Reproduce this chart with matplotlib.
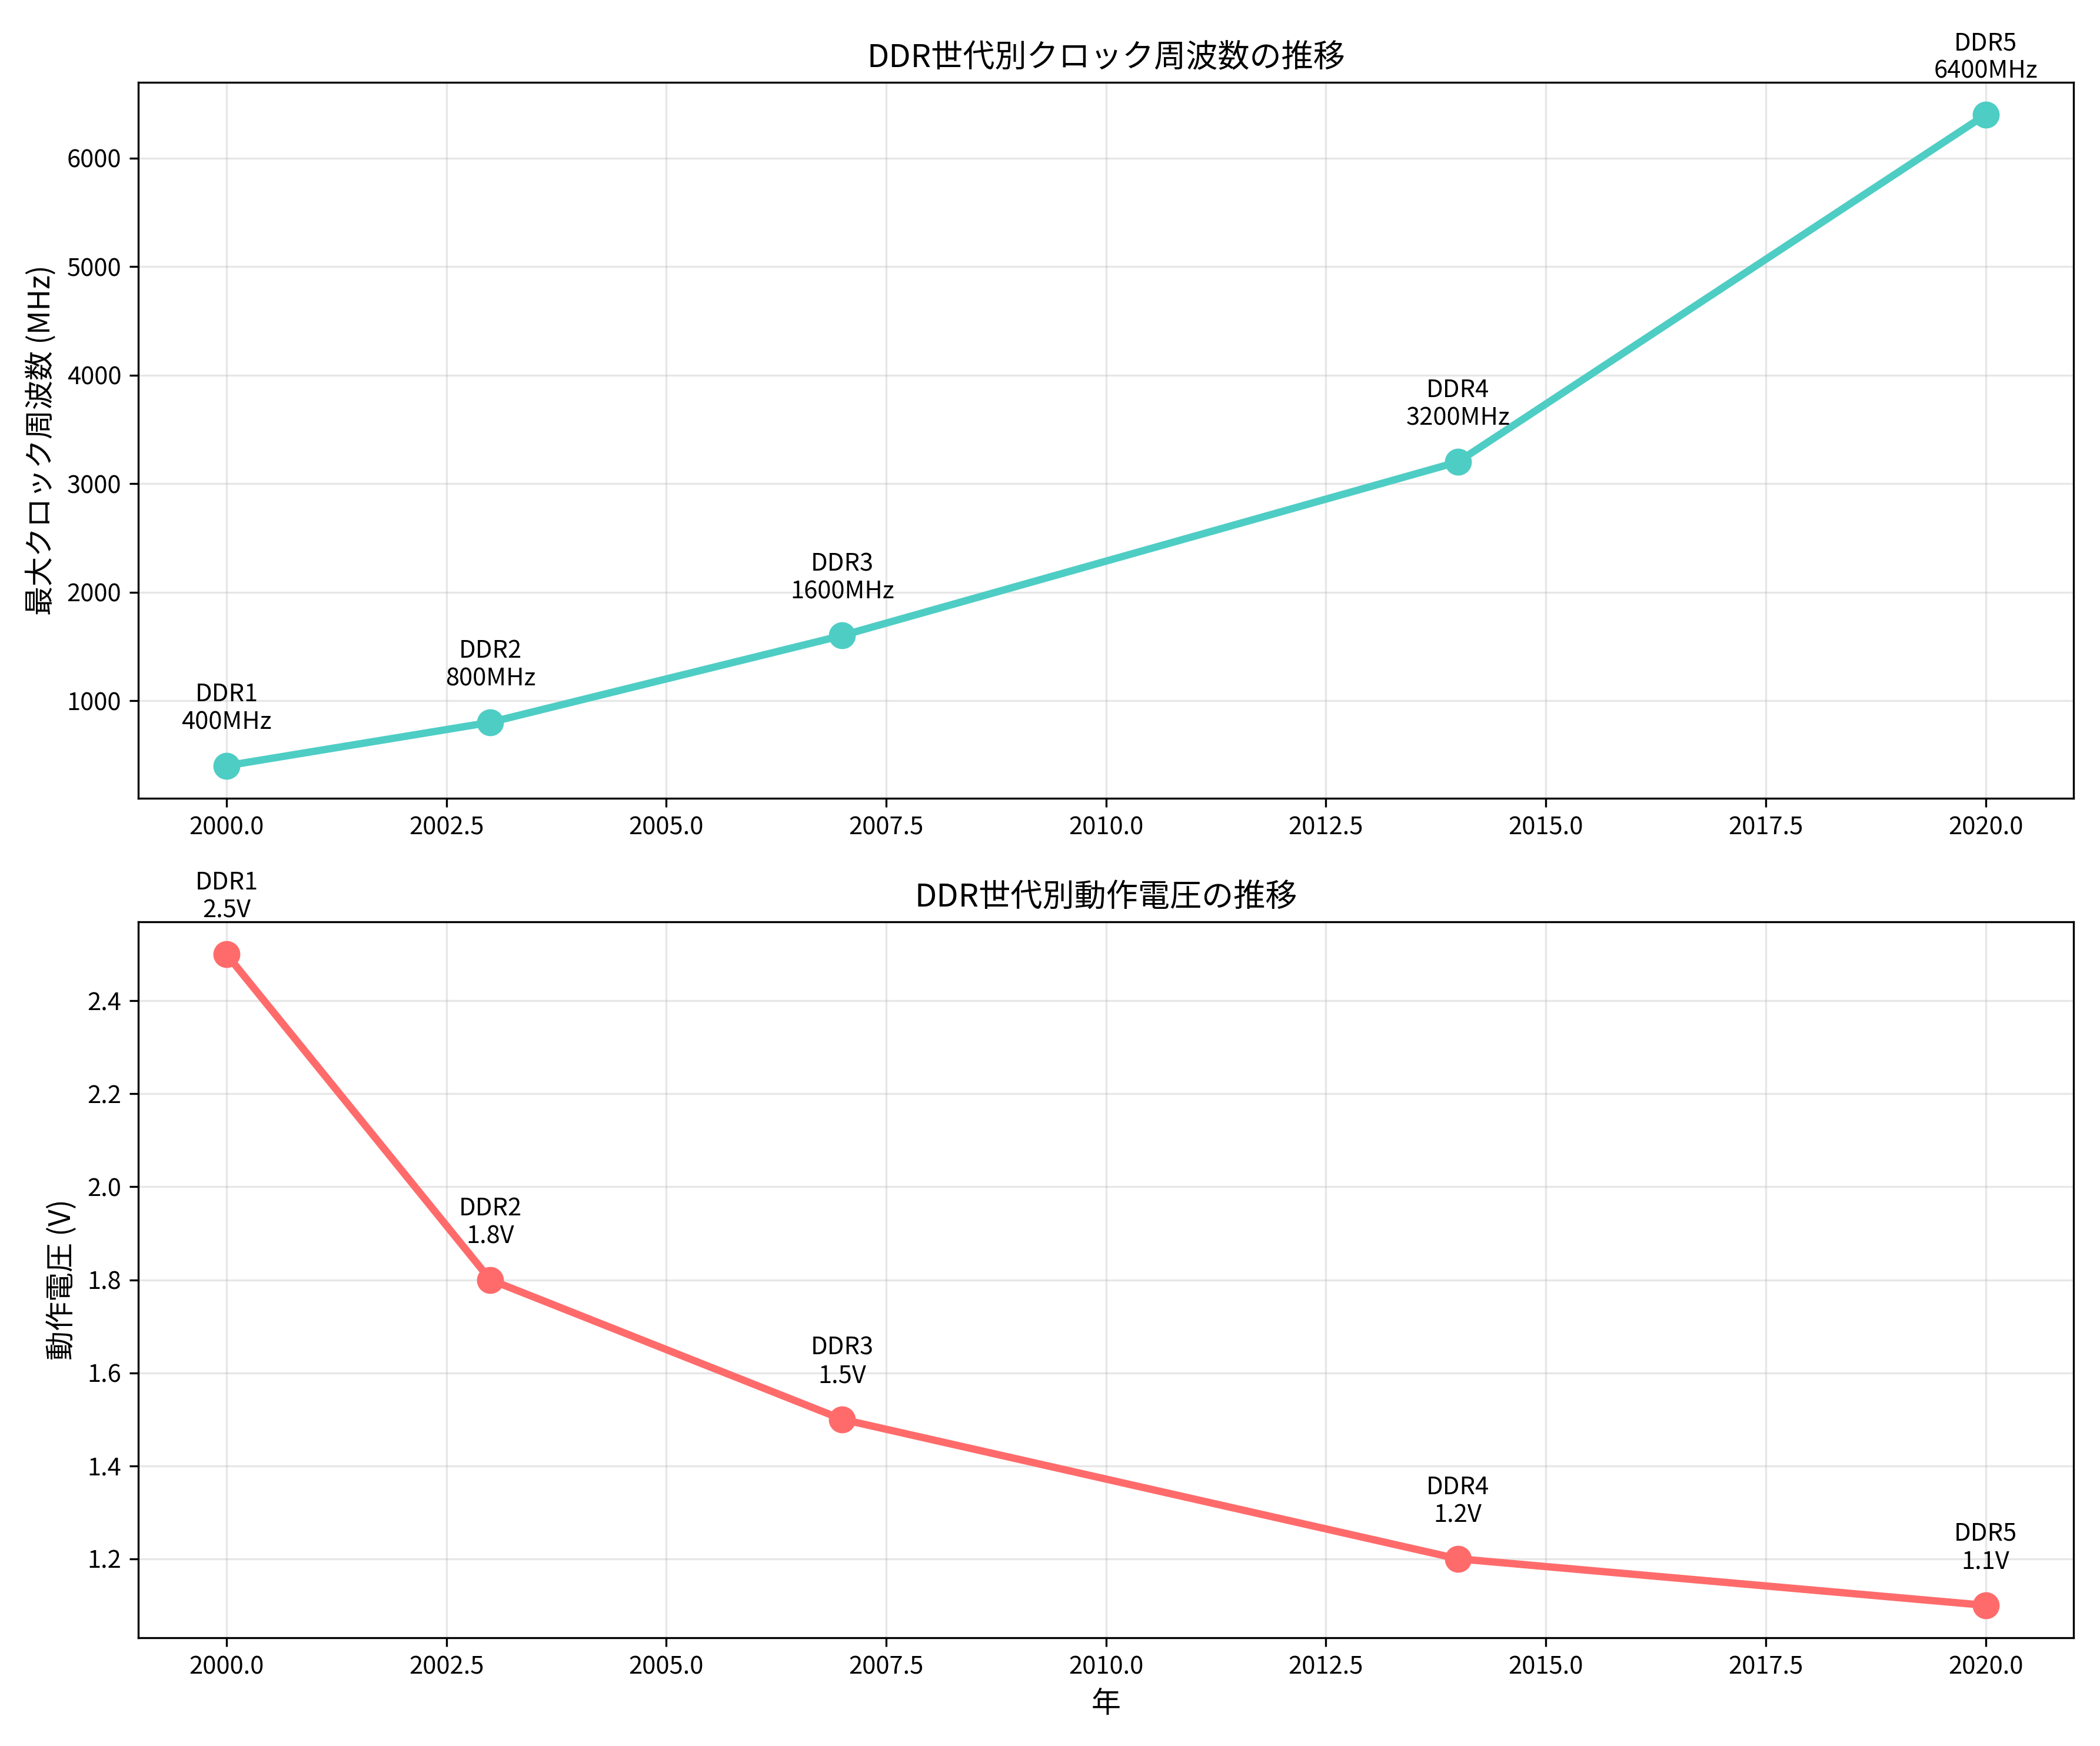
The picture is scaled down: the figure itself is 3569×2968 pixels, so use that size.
import matplotlib.pyplot as plt

plt.rcParams['font.family'] = ['Noto Sans CJK JP', 'DejaVu Sans']

generations = ['DDR1', 'DDR2', 'DDR3', 'DDR4', 'DDR5']
years = [2000, 2003, 2007, 2014, 2020]
clock_mhz = [400, 800, 1600, 3200, 6400]
voltage = [2.5, 1.8, 1.5, 1.2, 1.1]

fig, (ax1, ax2) = plt.subplots(2, 1, figsize=(3569 / 300, 2968 / 300), dpi=300)

ax1.plot(years, clock_mhz, color='#4ecdc4', linewidth=3, marker='o', markersize=10)
for g, x, y in zip(generations, years, clock_mhz):
    ax1.annotate(f'{g}\n{y}MHz', (x, y), textcoords='offset points', xytext=(0, 15),
                 ha='center', fontsize=10)
ax1.set_title('DDR世代別クロック周波数の推移', fontsize=13)
ax1.set_ylabel('最大クロック周波数 (MHz)', fontsize=12)
ax1.grid(True, alpha=0.3)

ax2.plot(years, voltage, color='#ff6b6b', linewidth=3, marker='o', markersize=10)
for g, x, y in zip(generations, years, voltage):
    ax2.annotate(f'{g}\n{y}V', (x, y), textcoords='offset points', xytext=(0, 15),
                 ha='center', fontsize=10)
ax2.set_title('DDR世代別動作電圧の推移', fontsize=13)
ax2.set_xlabel('年', fontsize=12)
ax2.set_ylabel('動作電圧 (V)', fontsize=12)
ax2.grid(True, alpha=0.3)

plt.tight_layout()
plt.savefig('out.png', dpi=300)
